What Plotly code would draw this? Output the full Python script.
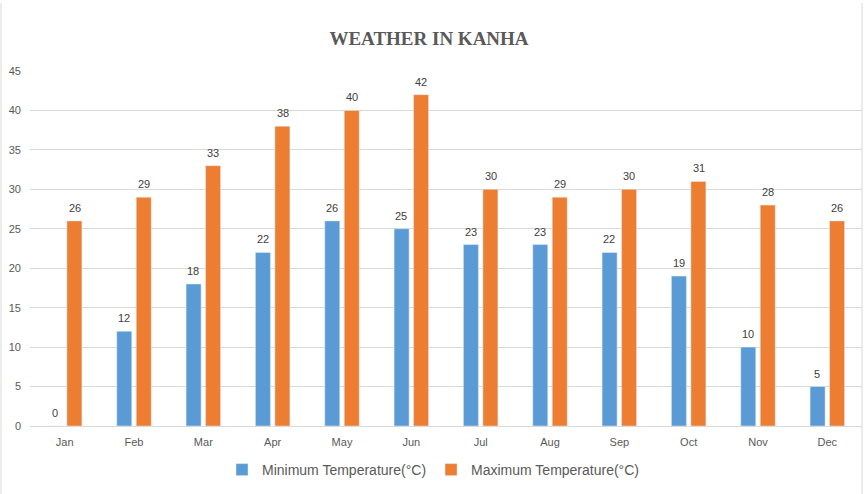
import plotly.graph_objects as go

months = ["Jan", "Feb", "Mar", "Apr", "May", "Jun", "Jul", "Aug", "Sep", "Oct", "Nov", "Dec"]
min_temp = [0, 12, 18, 22, 26, 25, 23, 23, 22, 19, 10, 5]
max_temp = [26, 29, 33, 38, 40, 42, 30, 29, 30, 31, 28, 26]

blue = "#5B9BD5"
orange = "#ED7D31"
label_font = dict(family="Liberation Sans, Arial, sans-serif", size=11, color="#404040")

W, H = 864, 494
L, R, T, B = 30, 2, 71, 68
pw, ph = W - L - R, H - T - B

fig = go.Figure()
fig.add_trace(go.Bar(x=months, y=min_temp, name="Minimum Temperature(°C)", marker_color=blue))
fig.add_trace(go.Bar(x=months, y=max_temp, name="Maximum Temperature(°C)", marker_color=orange))

# data labels above each bar
for vals, shift in ((min_temp, -10), (max_temp, 10)):
    for m, v in zip(months, vals):
        fig.add_annotation(x=m, y=v, text=str(v), showarrow=False, xshift=shift, yshift=6,
                           yanchor="bottom", yref="y", xref="x", font=label_font, borderpad=0)

border = dict(color="#D9D9D9", width=1)
y_top, y_bot = (H - B - 3) / ph, -(B + 2) / ph
fig.update_layout(
    width=W, height=H,
    paper_bgcolor="white", plot_bgcolor="white",
    margin=dict(l=L, r=R, t=T, b=B, autoexpand=False),
    barmode="group", bargap=0.438, bargroupgap=0.23,
    title=dict(text="<b>WEATHER IN KANHA</b>", x=429 / W, xanchor="center",
               y=(H - 38) / H, yanchor="middle",
               font=dict(family="Liberation Serif, Times New Roman, serif", size=19, color="#595959")),
    font=dict(family="Liberation Sans, Arial, sans-serif", size=11, color="#595959"),
    legend=dict(orientation="h", x=(433 - L) / pw, xanchor="center", yref="container",
                y=(H - 470) / H, yanchor="middle",
                font=dict(size=14, color="#595959"), traceorder="normal"),
    showlegend=True,
    shapes=[
        dict(type="line", xref="paper", yref="paper", x0=(1 - L) / pw, x1=(1 - L) / pw,
             y0=y_bot, y1=y_top, line=border, layer="below"),
        dict(type="line", xref="paper", yref="paper", x0=(862 - L) / pw, x1=(862 - L) / pw,
             y0=y_bot, y1=y_top, line=border, layer="below"),
    ],
)
fig.update_yaxes(range=[0, 45], dtick=5, gridcolor="#D9D9D9", gridwidth=1, zeroline=True,
                 zerolinecolor="#D9D9D9", zerolinewidth=1, showline=False, ticks="",
                 automargin=False, ticklabelstandoff=8,
                 tickfont=dict(size=11, color="#595959"))
fig.update_xaxes(showline=False, ticks="", automargin=False, ticklabelstandoff=8,
                 tickfont=dict(size=11, color="#595959"), showgrid=False)

fig.write_html("out.html", config={"displayModeBar": False},
               post_script="document.body.style.margin='0';")
